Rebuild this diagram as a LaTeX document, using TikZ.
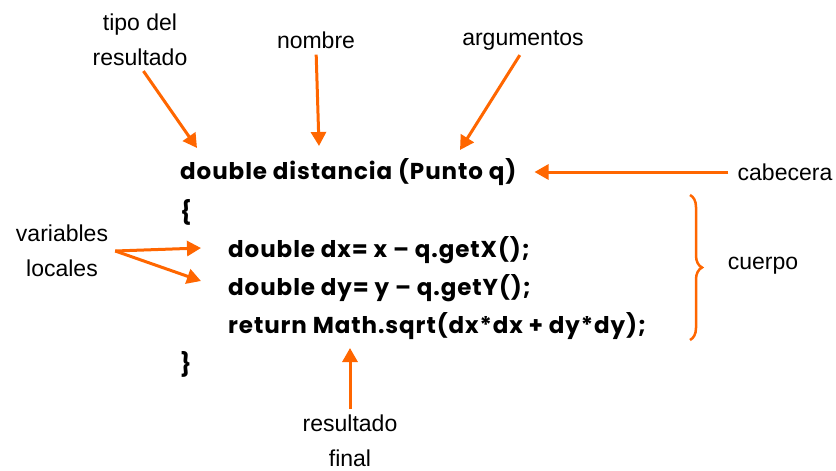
\documentclass[tikz,border=0pt]{standalone}
\usepackage{fontspec}
\setmainfont{Liberation Sans}
\newfontfamily\codefont{Poppins}[LetterSpace=4]
\usetikzlibrary{arrows.meta,decorations.pathreplacing,positioning}
\definecolor{naranja}{HTML}{FF6600}
\tikzset{
    etiqueta/.style={font=\fontsize{23}{35}\selectfont, align=center, inner sep=0pt},
    codigo/.style={font=\codefont\bfseries\fontsize{23}{38}\selectfont, anchor=west, inner sep=0pt},
    flecha/.style={draw=naranja, line width=3pt, -{Triangle[length=14pt,width=15pt]}}
}

\begin{document}
\begin{tikzpicture}[x=1pt,y=-1pt]
\useasboundingbox (0,0) rectangle (836,471);

% Codigo
\node[codigo] (cab) at (180,172) {double distancia (Punto q)};
\node[codigo] (abre) at (180,212) {\{};
\node[codigo] (dx) at (228,250) {double dx= x – q.getX();};
\node[codigo] (dy) at (228,288) {double dy= y – q.getY();};
\node[codigo] (ret) at (228,326) {return Math.sqrt(dx*dx + dy*dy);};
\node[codigo] (cierra) at (180,364) {\}};

% Etiquetas
\node[etiqueta] (tipo) at (140,40) {tipo del\\resultado};
\node[etiqueta] (nombre) at (316,40) {nombre};
\node[etiqueta] (args) at (523,40) {argumentos};
\node[etiqueta] (cabecera) at (785,172) {cabecera};
\node[etiqueta] (vars) at (62,251) {variables\\locales};
\node[etiqueta] (cuerpo) at (763,266) {cuerpo};
\node[etiqueta] (final) at (350,441) {resultado\\final};

% Puntas de las flechas
\coordinate (pTipo) at (197,148);
\coordinate (pNombre) at (319,146);
\coordinate (pArgs) at (460,150);
\coordinate (pFinal) at (350,348);

% Flechas
\draw[flecha, shorten <=6pt] (tipo.south) -- (pTipo);
\draw[flecha, shorten <=6pt] (nombre.south) -- (pNombre);
\draw[flecha, shorten <=6pt] (args.south) -- (pArgs);
\draw[flecha, shorten <=9pt, shorten >=18pt] (cabecera.west) -- (cab.east);
\draw[flecha] ([xshift=7pt]vars.east) -- ([xshift=-27pt,yshift=2pt]dx.west);
\draw[flecha] ([xshift=7pt]vars.east) -- ([xshift=-27pt,yshift=7pt]dy.west);
\draw[flecha, shorten <=6pt] (final.north) -- (pFinal);

% Llave del cuerpo
\draw[naranja, line width=2.5pt, decorate, decoration={brace, amplitude=12pt}]
    (690,195) -- (690,340);

\end{tikzpicture}
\end{document}
